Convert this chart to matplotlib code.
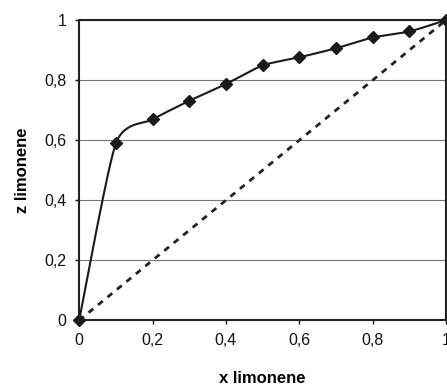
import numpy as np
import matplotlib
matplotlib.use("Agg")
import matplotlib.pyplot as plt
from matplotlib.ticker import FuncFormatter

plt.rcParams['font.family'] = ['Liberation Sans', 'DejaVu Sans']

# measured points (liquid x vs vapour z of limonene)
x_limonene = [0.0, 0.1, 0.2, 0.3, 0.4, 0.5, 0.6, 0.7, 0.8, 0.9, 1.0]
z_limonene = [0.0, 0.589, 0.669, 0.731, 0.787, 0.849, 0.876, 0.906, 0.942, 0.962, 1.0]
diag = [0.0, 1.0]


def smooth(xs, ys, k=1/9, n=30):
	# Bezier smoothing through the points, like a spreadsheet "smoothed line"
	xs = np.asarray(xs, float)
	ys = np.asarray(ys, float)
	px, py = [], []
	for i in range(len(xs) - 1):
		x0, y0 = (xs[i - 1], ys[i - 1]) if i > 0 else (xs[i], ys[i])
		x3, y3 = (xs[i + 2], ys[i + 2]) if i + 2 < len(xs) else (xs[i + 1], ys[i + 1])
		x1, y1, x2, y2 = xs[i], ys[i], xs[i + 1], ys[i + 1]
		c1x, c1y = x1 + (x2 - x0) * k, y1 + (y2 - y0) * k
		c2x, c2y = x2 - (x3 - x1) * k, y2 - (y3 - y1) * k
		t = np.linspace(0, 1, n)
		px.extend((1-t)**3*x1 + 3*(1-t)**2*t*c1x + 3*(1-t)*t**2*c2x + t**3*x2)
		py.extend((1-t)**3*y1 + 3*(1-t)**2*t*c1y + 3*(1-t)*t**2*c2y + t**3*y2)
	return px, py


fig = plt.figure(figsize=(4.47, 3.86), dpi=100)
ax = fig.add_axes([0.177, 0.17, 0.821, 0.778])

ax.plot(diag, diag, color="#222222", lw=2.0, ls=(0, (2.2, 2.2)))
sx, sy = smooth(x_limonene, z_limonene)
ax.plot(sx, sy, color="#1a1a1a", lw=1.5)
ax.plot(x_limonene, z_limonene, ls="none", marker="D", ms=6.5, color="#1a1a1a", clip_on=False, zorder=5)

ax.set_xlim(0, 1)
ax.set_ylim(0, 1)
ax.set_xticks([0, 0.2, 0.4, 0.6, 0.8, 1])
ax.set_yticks([0, 0.2, 0.4, 0.6, 0.8, 1])
fmt = FuncFormatter(lambda v, p: ("%g" % round(v, 1)).replace(".", ","))
ax.xaxis.set_major_formatter(fmt)
ax.yaxis.set_major_formatter(fmt)
ax.tick_params(direction="out", length=3, width=1, labelsize=11.5, colors="#111111", pad=6)
ax.grid(axis="y", color="#777777", lw=0.8)
ax.set_axisbelow(True)
for s in ax.spines.values():
	s.set_linewidth(1.5)
	s.set_color("#222222")

ax.set_xlabel("x limonene", fontsize=12, fontweight="bold", labelpad=17)
ax.set_ylabel("z limonene", fontsize=12, fontweight="bold", labelpad=10)

fig.savefig("out.png", dpi=100)
